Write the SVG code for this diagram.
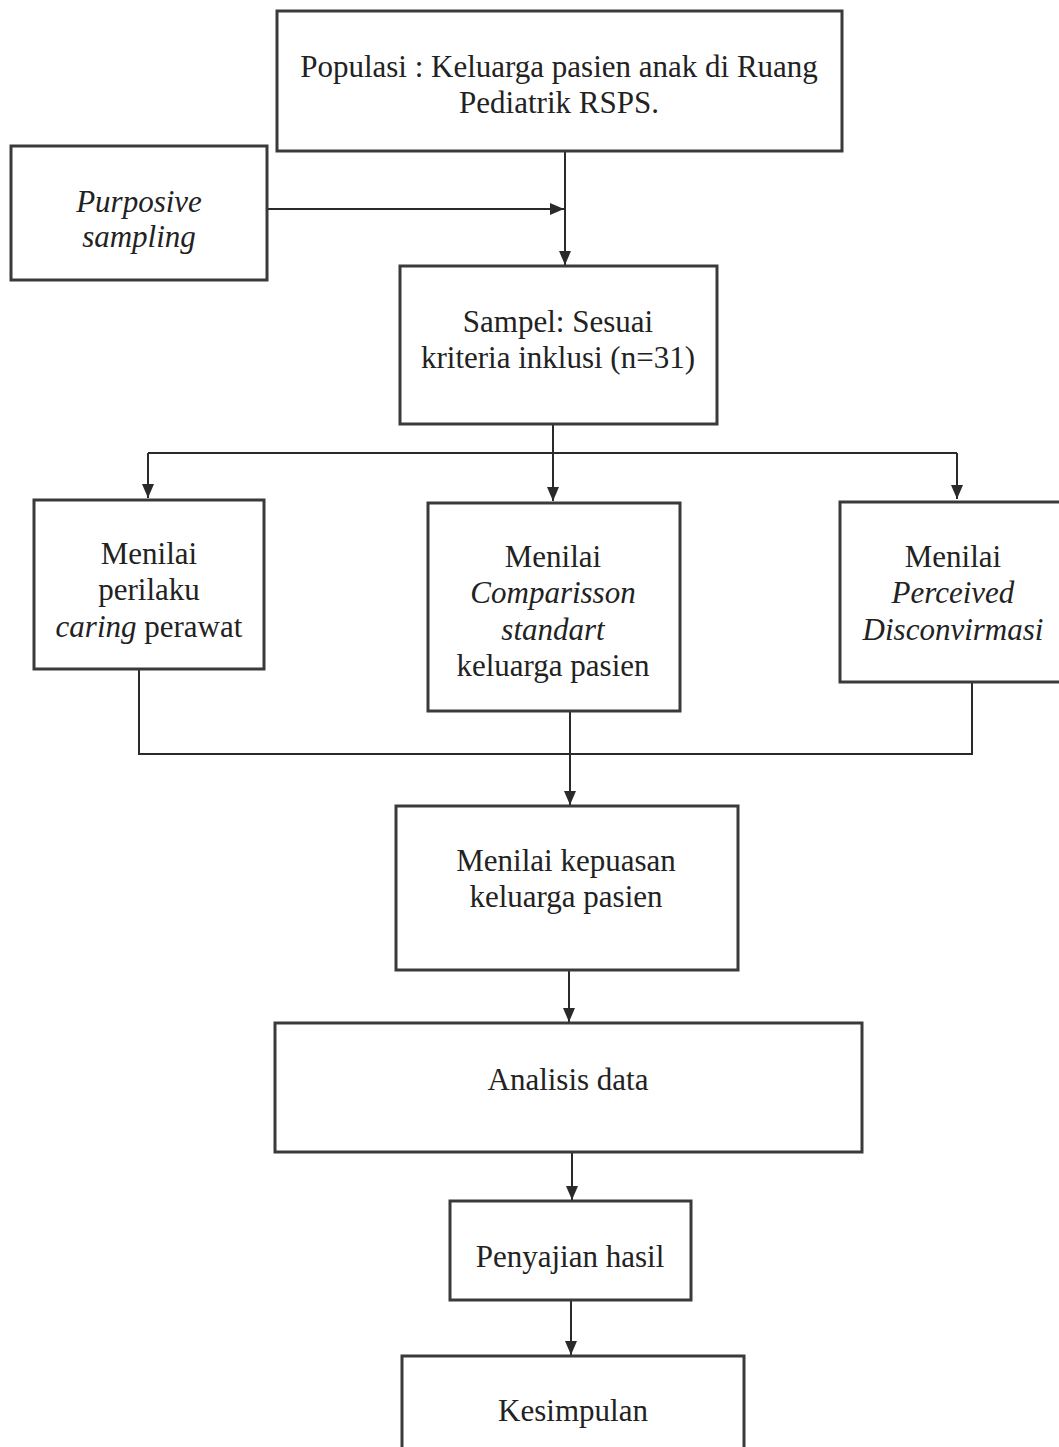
<svg xmlns="http://www.w3.org/2000/svg" width="1059" height="1447" viewBox="0 0 1059 1447">
<style>
.box{fill:#fff;stroke:#3a3a3a;stroke-width:3}
.ln{fill:none;stroke:#2a2a2a;stroke-width:2}
text{font-family:"Liberation Serif","Times New Roman",serif;font-size:31px;fill:#222;text-anchor:middle}
.it{font-style:italic}
</style>
<defs>
<marker id="ah" markerWidth="14" markerHeight="12" refX="14" refY="6" orient="auto" markerUnits="userSpaceOnUse">
<path d="M0,0 L14,6 L0,12 Z" fill="#2a2a2a"/>
</marker>
</defs>
<rect width="1059" height="1447" fill="#fff"/>
<g id="connectors">
<line class="ln" x1="565" y1="152" x2="565" y2="265" marker-end="url(#ah)"/>
<line class="ln" x1="267" y1="209" x2="564" y2="209" marker-end="url(#ah)"/>
<polyline class="ln" points="553,425 553,453"/>
<polyline class="ln" points="148,453 957,453"/>
<line class="ln" x1="148" y1="453" x2="148" y2="498" marker-end="url(#ah)"/>
<line class="ln" x1="553" y1="453" x2="553" y2="501" marker-end="url(#ah)"/>
<line class="ln" x1="957" y1="453" x2="957" y2="499" marker-end="url(#ah)"/>
<polyline class="ln" points="139,670 139,754 972,754 972,683"/>
<line class="ln" x1="570" y1="712" x2="570" y2="805" marker-end="url(#ah)"/>
<line class="ln" x1="569" y1="971" x2="569" y2="1022" marker-end="url(#ah)"/>
<line class="ln" x1="572" y1="1153" x2="572" y2="1200" marker-end="url(#ah)"/>
<line class="ln" x1="571" y1="1301" x2="571" y2="1355" marker-end="url(#ah)"/>
</g>
<g id="populasi">
<rect class="box" x="277" y="11" width="565" height="140"/>
<text x="559" y="77">Populasi : Keluarga pasien anak di Ruang</text>
<text x="559" y="113">Pediatrik RSPS.</text>
</g>
<g id="purposive">
<rect class="box" x="11" y="146" width="256" height="134"/>
<text class="it" x="139" y="212">Purposive</text>
<text class="it" x="139" y="247">sampling</text>
</g>
<g id="sampel">
<rect class="box" x="400" y="266" width="317" height="158"/>
<text x="558" y="332">Sampel: Sesuai</text>
<text x="558" y="368">kriteria inklusi (n=31)</text>
</g>
<g id="caring">
<rect class="box" x="34" y="500" width="230" height="169"/>
<text x="149" y="564">Menilai</text>
<text x="149" y="600">perilaku</text>
<text x="149" y="637"><tspan class="it">caring</tspan> perawat</text>
</g>
<g id="comparisson">
<rect class="box" x="428" y="503" width="252" height="208"/>
<text x="553" y="567">Menilai</text>
<text class="it" x="553" y="603">Comparisson</text>
<text class="it" x="553" y="640">standart</text>
<text x="553" y="676">keluarga pasien</text>
</g>
<g id="perceived">
<rect class="box" x="840" y="502" width="225" height="180"/>
<text x="953" y="567">Menilai</text>
<text class="it" x="953" y="603">Perceived</text>
<text class="it" x="953" y="640">Disconvirmasi</text>
</g>
<g id="kepuasan">
<rect class="box" x="396" y="806" width="342" height="164"/>
<text x="566" y="871">Menilai kepuasan</text>
<text x="566" y="907">keluarga pasien</text>
</g>
<g id="analisis">
<rect class="box" x="275" y="1023" width="587" height="129"/>
<text x="568" y="1090">Analisis data</text>
</g>
<g id="penyajian">
<rect class="box" x="450" y="1201" width="241" height="99"/>
<text x="570" y="1267">Penyajian hasil</text>
</g>
<g id="kesimpulan">
<rect class="box" x="402" y="1356" width="342" height="110"/>
<text x="573" y="1421">Kesimpulan</text>
</g>
</svg>
